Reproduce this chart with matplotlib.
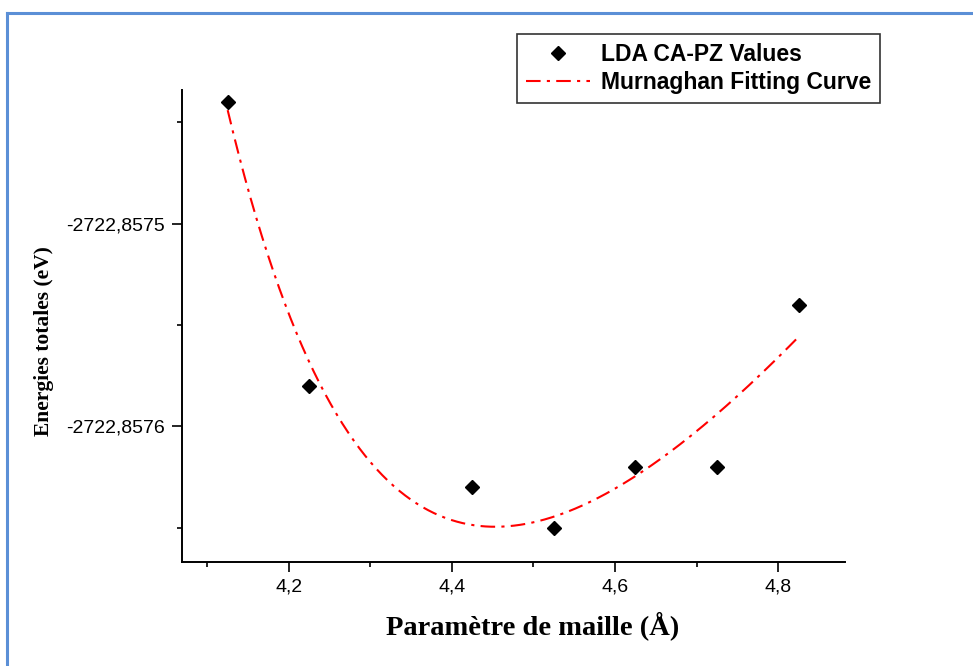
import numpy as np
import matplotlib
matplotlib.use("Agg")
import matplotlib.pyplot as plt
from matplotlib.ticker import FuncFormatter, MultipleLocator, FixedLocator
from matplotlib.lines import Line2D

# Lattice parameter (Å) and total energy (eV) from LDA CA-PZ calculations
lattice_a = [4.125, 4.225, 4.425, 4.525, 4.625, 4.725, 4.825]
energy_ev = [-2722.85744, -2722.85758, -2722.85763, -2722.85765,
             -2722.85762, -2722.85762, -2722.85754]

x_major_ticks = [4.2, 4.4, 4.6, 4.8]
y_major_ticks = [-2722.8575, -2722.8576]

a = np.array(lattice_a)
E = np.array(energy_ev)
V = a ** 3
E_ref = E.mean()


def murnaghan_basis(vol, v0, bp):
    return vol / bp * ((v0 / vol) ** bp / (bp - 1.0) + 1.0) - v0 / (bp - 1.0)


# Murnaghan fit: linear least squares in (E0, B) over a grid of (V0, B')
best = None
for a0 in np.linspace(4.35, 4.60, 251):
    v0 = a0 ** 3
    for bp in np.linspace(1.2, 30.0, 289):
        A = np.column_stack([np.ones_like(V), murnaghan_basis(V, v0, bp)])
        coef, *_ = np.linalg.lstsq(A, E - E_ref, rcond=None)
        res = np.sum((A @ coef - (E - E_ref)) ** 2)
        if best is None or res < best[0]:
            best = (res, v0, bp, coef)
_, V0_fit, Bp_fit, (E0_fit, B_fit) = best

a_fit = np.linspace(lattice_a[0], lattice_a[-1], 300)
E_fit = E_ref + E0_fit + B_fit * murnaghan_basis(a_fit ** 3, V0_fit, Bp_fit)

fig = plt.figure(figsize=(9.73, 6.66), dpi=100)
ax = fig.add_axes([182 / 973, 1 - 562 / 666, (845 - 182) / 973, (562 - 90) / 666])

ax.plot(a_fit, E_fit, color="#ff0000", lw=1.5, ls=(0, (7, 3, 1.5, 3)),
        label="Murnaghan Fitting Curve", zorder=2)
ax.plot(lattice_a, energy_ev, ls="none", marker="D", ms=7.5, color="black",
        label="LDA CA-PZ Values", zorder=3)

ax.set_xlim(4.069, 4.882)
ax.set_ylim(-2722.857667, -2722.857434)

ax.xaxis.set_major_locator(FixedLocator(x_major_ticks))
ax.xaxis.set_minor_locator(MultipleLocator(0.1))
ax.yaxis.set_major_locator(FixedLocator(y_major_ticks))
ax.yaxis.set_minor_locator(MultipleLocator(0.00005))
ax.xaxis.set_major_formatter(FuncFormatter(lambda v, p: f"{v:.1f}".replace(".", ",")))
ax.yaxis.set_major_formatter(FuncFormatter(lambda v, p: f"{v:.4f}".replace(".", ",")))

for side in ("top", "right"):
    ax.spines[side].set_visible(False)
for side in ("left", "bottom"):
    ax.spines[side].set_linewidth(1.4)
ax.tick_params(which="major", direction="out", length=7, width=1.2,
               labelsize=14, pad=5)
ax.tick_params(which="minor", direction="out", length=3.6, width=1.2)
for lbl in ax.get_xticklabels() + ax.get_yticklabels():
    lbl.set_fontfamily("Liberation Sans")

ax.set_xlabel("Paramètre de maille (Å)", fontsize=20.5, fontweight="bold",
              fontfamily="Liberation Serif")
ax.set_ylabel("Energies totales (eV)", fontsize=15.5, fontweight="bold",
              fontfamily="Liberation Serif")
ax.xaxis.set_label_coords(0.529, -0.104)
ax.yaxis.set_label_coords(-0.193, 0.468)

handles, labels = ax.get_legend_handles_labels()
leg = ax.legend(handles[::-1], labels[::-1], loc="upper left",
                bbox_to_anchor=(517 / 973, 1 - 34 / 666),
                bbox_transform=fig.transFigure, borderaxespad=0,
                frameon=True, fancybox=False, edgecolor="black",
                prop={"family": "Liberation Sans", "weight": "bold", "size": 16.5},
                handlelength=2.8, borderpad=0.4, labelspacing=0.2,
                handletextpad=0.45)
leg.get_frame().set_linewidth(1.2)

# Blue frame along the top and left edges
blue = "#5b8fd6"
fig.add_artist(Line2D([7 / 973, 1.0], [1 - 13 / 666, 1 - 13 / 666],
                      transform=fig.transFigure, color=blue, lw=2.2))
fig.add_artist(Line2D([7 / 973, 7 / 973], [0.0, 1 - 13 / 666],
                      transform=fig.transFigure, color=blue, lw=2.2))

fig.savefig("out.png", dpi=100)
